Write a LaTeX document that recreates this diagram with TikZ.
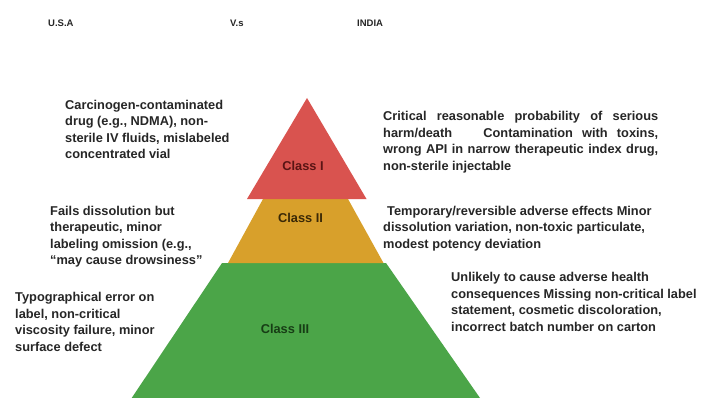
\documentclass[tikz,border=0pt]{standalone}
\usepackage{fontspec}
\setmainfont{Liberation Sans}
\definecolor{tierred}{HTML}{D9534F}
\definecolor{tiergold}{HTML}{D8A02B}
\definecolor{tiergreen}{HTML}{4BA548}
\definecolor{inkred}{HTML}{5A1414}
\definecolor{inkgold}{HTML}{3A2806}
\definecolor{inkgreen}{HTML}{173D15}
\begin{document}
\begin{tikzpicture}[x=1pt,y=-1pt,
  header/.style={anchor=west, inner sep=0pt, font=\bfseries\fontsize{9.5}{11}\selectfont, text=black!85},
  body/.style={anchor=north west, inner sep=0pt, align=left, font=\bfseries\fontsize{12.8}{16.4}\selectfont, text=black!85},
  tierlabel/.style={inner sep=0pt, font=\bfseries\fontsize{12.8}{15}\selectfont}]
  % canvas
  \fill[white] (0,0) rectangle (703,398);
  \useasboundingbox (0,0) rectangle (703,398);

  % pyramid tiers
  \fill[tiergreen] (222,263) -- (386,263) -- (480,398) -- (131.7,398) -- cycle;
  \fill[tiergold] (263,199) -- (348,199) -- (383.5,263) -- (228,263) -- cycle;
  \fill[tierred] (307,98) -- (366.5,199) -- (247,199) -- cycle;

  \node[tierlabel, text=inkred]   (c1) at (303,166) {Class I};
  \node[tierlabel, text=inkgold]  (c2) at (300.5,218) {Class II};
  \node[tierlabel, text=inkgreen] (c3) at (285,329) {Class III};

  % column headings
  \node[header] (usa) at (48,23) {U.S.A};
  \node[header] (vs) at (230,23) {V.s};
  \node[header] (india) at (357,23) {INDIA};

  % U.S.A examples
  \node[body] (u1) at (65,100) {Carcinogen-contaminated\\drug (e.g., NDMA), non-\\sterile IV fluids, mislabeled\\concentrated vial};
  \node[body] (u2) at (50,206) {Fails dissolution but\\therapeutic, minor\\labeling omission (e.g.,\\``may cause drowsiness''};
  \node[body] (u3) at (15,292.5) {Typographical error on\\label, non-critical\\viscosity failure, minor\\surface defect};

  % India definitions and examples
  \node[body] (i1) at (383,111.5) {\makebox[275pt][s]{Critical reasonable probability of serious}\\
    \makebox[275pt][s]{harm/death\hspace{22pt} Contamination with toxins,}\\
    \makebox[275pt][s]{wrong API in narrow therapeutic index drug,}\\
    non-sterile injectable};
  \node[body] (i2) at (383,206) {\hspace*{4pt}Temporary/reversible adverse effects Minor\\dissolution variation, non-toxic particulate,\\modest potency deviation};
  \node[body] (i3) at (451,272.5) {Unlikely to cause adverse health\\consequences Missing non-critical label\\statement, cosmetic discoloration,\\incorrect batch number on carton};
\end{tikzpicture}
\end{document}
